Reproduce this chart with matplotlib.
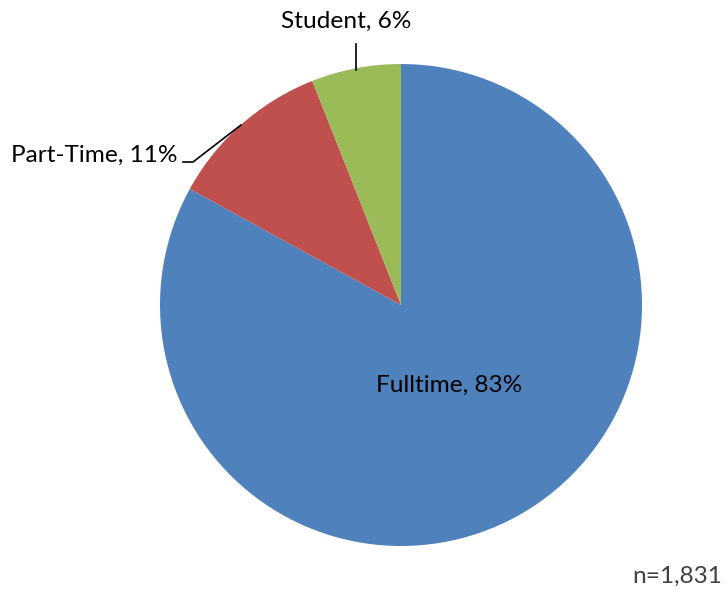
import matplotlib
matplotlib.use('Agg')
import matplotlib.pyplot as plt

# data
labels = ['Fulltime', 'Part-Time', 'Student']
shares = [83, 11, 6]
colors = ['#4F81BD', '#C0504D', '#9BBB59']
n_total = '1,831'

plt.rcParams['font.family'] = ['Lato', 'DejaVu Sans']

fig = plt.figure(figsize=(7.27, 5.9), dpi=100)
ax = fig.add_axes([0, 0, 1, 1])

# pie center at (401,305) px, radius 241 px
r_px = 241.0
cx, cy = 401.0, 305.0
ax.set_xlim(-cx / r_px, (727 - cx) / r_px)
ax.set_ylim(-(590 - cy) / r_px, cy / r_px)

wedges, _ = ax.pie(shares, colors=colors, startangle=90, counterclock=False,
                   radius=1.0, center=(0, 0), frame=True,
                   wedgeprops=dict(linewidth=0))
ax.set_aspect('auto')
ax.axis('off')

def px(x, y):
    return ((x - cx) / r_px, (cy - y) / r_px)

fs = 17.6
# Fulltime label inside
ax.text(*px(449, 385), f'{labels[0]}, {shares[0]}%', ha='center', va='center', fontsize=fs, color='black')

# Student label with vertical leader
ax.text(*px(346, 21), f'{labels[2]}, {shares[2]}%', ha='center', va='center', fontsize=fs, color='black')
ax.plot(*zip(px(356, 44), px(356, 70)), color='black', lw=1.2)

# Part-Time label with bent leader
ax.text(*px(177, 155), f'{labels[1]}, {shares[1]}%', ha='right', va='center', fontsize=fs, color='black')
ax.plot(*zip(px(183, 162), px(193, 162), px(241, 125)), color='black', lw=1.2)

ax.text(*px(722, 576), f'n={n_total}', ha='right', va='center', fontsize=fs, color='#404040')

fig.savefig('out.png', dpi=100)
